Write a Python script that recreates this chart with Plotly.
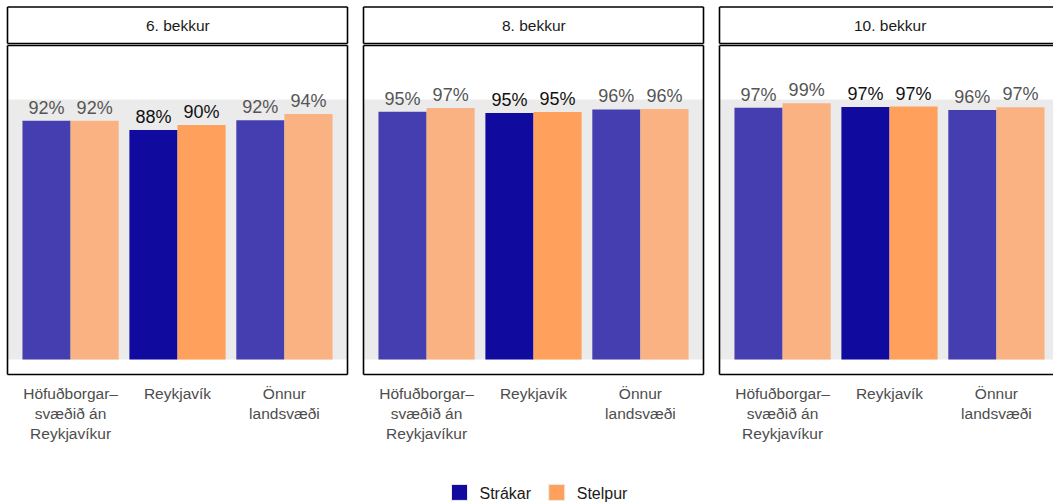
import plotly.graph_objects as go

# data
grades = ['6. bekkur', '8. bekkur', '10. bekkur']
regions = ['Höfuðborgar–<br>svæðið án<br>Reykjavíkur', 'Reykjavík', 'Önnur<br>landsvæði']
boys = [
    [0.918, 0.883, 0.920],
    [0.953, 0.948, 0.962],
    [0.968, 0.971, 0.960],
]
girls = [
    [0.918, 0.902, 0.944],
    [0.967, 0.952, 0.963],
    [0.986, 0.973, 0.970],
]
highlight = 'Reykjavík'

BOY_DARK, BOY_LIGHT = '#110A9F', '#443EB0'
GIRL_DARK, GIRL_LIGHT = '#FFA05C', '#FAB282'
FONT = 'Liberation Sans, Arial, sans-serif'

W, H = 1053, 502
panel_w, panel_step, panel_x0 = 340, 356, 7.5
unit = panel_w / 3.18          # pixels per category
y_top, y_bot = 45.5, 374.5
y_range = [-0.0577, 1.2077]

fig = go.Figure()

for k, grade in enumerate(grades):
    ax = '' if k == 0 else str(k + 1)
    left = panel_x0 + panel_step * k
    right = min(left + panel_w, W)
    xr = [-0.59, -0.59 + (right - left) / unit]

    for name, vals, dark, light in [('Strákar', boys[k], BOY_DARK, BOY_LIGHT),
                                    ('Stelpur', girls[k], GIRL_DARK, GIRL_LIGHT)]:
        cols = [dark if r == highlight else light for r in regions]
        tcols = ['#111111' if r == highlight else '#555555' for r in regions]
        fig.add_trace(go.Bar(
            x=list(range(len(regions))), y=vals, name=name,
            marker=dict(color=cols, line=dict(width=0)),
            text=[f'{v:.0%}' for v in vals], textposition='outside',
            textfont=dict(size=18, color=tcols, family=FONT),
            constraintext='none', cliponaxis=False, showlegend=False,
            xaxis='x' + ax, yaxis='y' + ax,
        ))

    fig.update_layout(**{
        'xaxis' + ax: dict(
            domain=[left / W, right / W], range=xr,
            tickvals=list(range(len(regions))), ticktext=regions,
            ticks='outside', ticklen=5, tickcolor='rgba(0,0,0,0)',
            showgrid=False, zeroline=False, showline=False,
            tickfont=dict(size=15.5, color='#4D4D4D', family=FONT),
            anchor='y' + ax, fixedrange=True, automargin=False,
        ),
        'yaxis' + ax: dict(
            domain=[1 - y_bot / H, 1 - y_top / H], range=y_range,
            showticklabels=False, showgrid=False, zeroline=False,
            anchor='x' + ax, fixedrange=True, automargin=False,
        ),
    })

    # grey 100% band behind the bars
    fig.add_shape(type='rect', xref=f'x{ax} domain', yref='y' + ax,
                  x0=0, x1=1, y0=0, y1=1.0, fillcolor='#EBEBEB',
                  line=dict(width=0), layer='below')

    # panel + strip borders (third panel runs off the right edge)
    edges = [(left, 7, right, 7), (left, 43.5, right, 43.5),
             (left, y_top, right, y_top), (left, y_bot, right, y_bot),
             (left, 7, left, 43.5), (left, y_top, left, y_bot)]
    if right < W:
        edges += [(right, 7, right, 43.5), (right, y_top, right, y_bot)]
    for x0, y0, x1, y1 in edges:
        fig.add_shape(type='line', xref='paper', yref='paper',
                      x0=x0 / W, x1=x1 / W, y0=1 - y0 / H, y1=1 - y1 / H,
                      line=dict(color='black', width=1.6))

    fig.add_annotation(text=grade, xref='paper', yref='paper',
                       x=(left + panel_w / 2) / W, y=1 - 26 / H,
                       xanchor='center', yanchor='middle',
                       showarrow=False, font=dict(size=15.5, color='#1A1A1A', family=FONT))

# legend entries
for name, col in [('Strákar', BOY_DARK), ('Stelpur', GIRL_DARK)]:
    fig.add_trace(go.Scatter(x=[None], y=[None], name=name, mode='markers',
                             marker=dict(color=col, symbol='square', size=17,
                                         line=dict(color='#EBEBEB', width=1)),
                             showlegend=True))

fig.update_layout(
    width=W, height=H,
    margin=dict(l=0, r=0, t=0, b=0, autoexpand=False),
    paper_bgcolor='white', plot_bgcolor='white',
    barmode='group', bargap=0.1, bargroupgap=0,
    font=dict(family=FONT),
    legend=dict(orientation='h', x=0.5 + 10 / W, xanchor='center', y=9.5 / H, yanchor='middle',
                font=dict(size=16, color='#1A1A1A', family=FONT),
                itemwidth=30, tracegroupgap=0),
    showlegend=True,
)

fig.write_html('out.html', config={'displayModeBar': False},
               post_script="document.body.style.margin='0';")
